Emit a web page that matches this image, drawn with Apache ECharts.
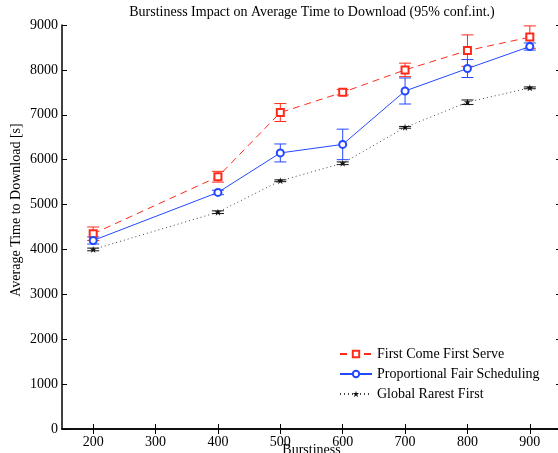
<!DOCTYPE html>
<html><head><meta charset="utf-8">
<script src="https://cdn.jsdelivr.net/npm/echarts@6/dist/echarts.min.js"></script>
<style>html,body{margin:0;padding:0;background:#fff}#c{width:558px;height:453px}</style>
</head><body><div id="c"></div>
<script>
const burstiness = [200, 400, 500, 600, 700, 800, 900];
const fcfs = [4350, 5620, 7050, 7500, 8000, 8430, 8730];
const fcfsErr = [150, 120, 200, 60, 150, 350, 250];
const pfs = [4200, 5270, 6150, 6340, 7530, 8030, 8520];
const pfsErr = [80, 50, 200, 340, 290, 200, 80];
const grf = [4000, 4830, 5530, 5920, 6720, 7280, 7600];
const grfErr = [30, 30, 20, 30, 20, 50, 20];
const xTicks = [200, 300, 400, 500, 600, 700, 800, 900];

const serif = 'Liberation Serif';
const red = '#ff2a1a', blue = '#2448ff', black = '#111';

function pairs(v) { return burstiness.map((x, i) => [x, v[i]]); }
function errData(v, e) { return burstiness.map((x, i) => [x, v[i] - e[i], v[i] + e[i]]); }
function errSeries(name, v, e, color) {
  return {
    type: 'custom', name: name + ' err', data: errData(v, e), z: 3, silent: true,
    renderItem: function (params, api) {
      const x = api.value(0);
      const lo = api.coord([x, api.value(1)]);
      const hi = api.coord([x, api.value(2)]);
      const w = 6;
      const st = { stroke: color, lineWidth: 1 };
      return { type: 'group', children: [
        { type: 'line', shape: { x1: lo[0], y1: lo[1], x2: hi[0], y2: hi[1] }, style: st },
        { type: 'line', shape: { x1: lo[0] - w, y1: lo[1], x2: lo[0] + w, y2: lo[1] }, style: st },
        { type: 'line', shape: { x1: hi[0] - w, y1: hi[1], x2: hi[0] + w, y2: hi[1] }, style: st }
      ]};
    }
  };
}
const star = 'path://M0,-5L1,-1.5L5,-1.5L2,0.8L3.2,5L0,2.2L-3.2,5L-2,0.8L-5,-1.5L-1,-1.5Z';

const chart = echarts.init(document.getElementById('c'));
const axisTxt = { fontFamily: serif, fontSize: 14, color: '#000' };
chart.setOption({
  animation: false,
  title: { text: 'Burstiness Impact on Average Time to Download (95% conf.int.)', left: 307, textAlign: 'center', top: 0,
    textStyle: { fontFamily: serif, fontSize: 14, fontWeight: 'normal', color: '#000' } },
  legend: {
    orient: 'vertical', left: 334, top: 342, itemWidth: 32, itemHeight: 8, itemGap: 6,
    textStyle: { fontFamily: serif, fontSize: 14, color: '#000' },
    data: ['First Come First Serve', 'Proportional Fair Scheduling', 'Global Rarest First']
  },
  grid: { left: 62, top: 25, width: 499, height: 404, outerBoundsMode: 'none', containLabel: false },
  xAxis: [{
    type: 'value', min: 150, max: 950, position: 'bottom',
    name: 'Burstiness', nameLocation: 'middle', nameGap: 14, nameMoveOverlap: false,
    nameTextStyle: { fontFamily: serif, fontSize: 14, color: '#000' },
    axisLine: { lineStyle: { color: '#000', width: 1.5 } },
    axisTick: { inside: true, length: 5, lineStyle: { color: '#000' }, customValues: xTicks },
    axisLabel: Object.assign({ margin: 6, customValues: xTicks }, axisTxt),
    splitLine: { show: false }
  }, {
    type: 'value', min: 150, max: 950, position: 'top',
    axisLine: { lineStyle: { color: '#000', width: 1.5 } },
    axisTick: { inside: true, length: 5, lineStyle: { color: '#000' }, customValues: xTicks },
    axisLabel: { show: false }, splitLine: { show: false }
  }],
  yAxis: [{
    type: 'value', min: 0, max: 9000, interval: 1000,
    name: 'Average Time to Download [s]', nameLocation: 'middle', nameGap: 39, nameRotate: 90, nameMoveOverlap: false,
    nameTextStyle: { fontFamily: serif, fontSize: 14, color: '#000', padding: [0, 0, 0, 34] },
    axisLine: { show: true, lineStyle: { color: '#000', width: 1.5 } },
    axisTick: { show: true, inside: true, length: 5, lineStyle: { color: '#000' } },
    axisLabel: Object.assign({ margin: 4, formatter: v => String(v) }, axisTxt),
    splitLine: { show: false }
  }, {
    type: 'value', min: 0, max: 9000, interval: 1000, position: 'right',
    axisLine: { show: true, lineStyle: { color: '#000', width: 1.5 } },
    axisTick: { show: true, inside: true, length: 5, lineStyle: { color: '#000' } },
    axisLabel: { show: false }, splitLine: { show: false }
  }],
  series: [
    { type: 'line', name: 'First Come First Serve', data: pairs(fcfs), color: red,
      symbol: 'emptyRect', symbolSize: 7, lineStyle: { color: red, width: 1, type: [7, 5] },
      itemStyle: { color: red, borderColor: red, borderWidth: 1 }, z: 4 },
    { type: 'line', name: 'Proportional Fair Scheduling', data: pairs(pfs), color: blue,
      symbol: 'emptyCircle', symbolSize: 7, lineStyle: { color: blue, width: 1 },
      itemStyle: { color: blue, borderColor: blue, borderWidth: 1 }, z: 4 },
    { type: 'line', name: 'Global Rarest First', data: pairs(grf), color: black,
      symbol: star, symbolSize: 7, lineStyle: { color: '#444', width: 1, type: [1, 3] },
      itemStyle: { color: black }, z: 4 },
    errSeries('First Come First Serve', fcfs, fcfsErr, red),
    errSeries('Proportional Fair Scheduling', pfs, pfsErr, blue),
    errSeries('Global Rarest First', grf, grfErr, black)
  ]
});
</script></body></html>
